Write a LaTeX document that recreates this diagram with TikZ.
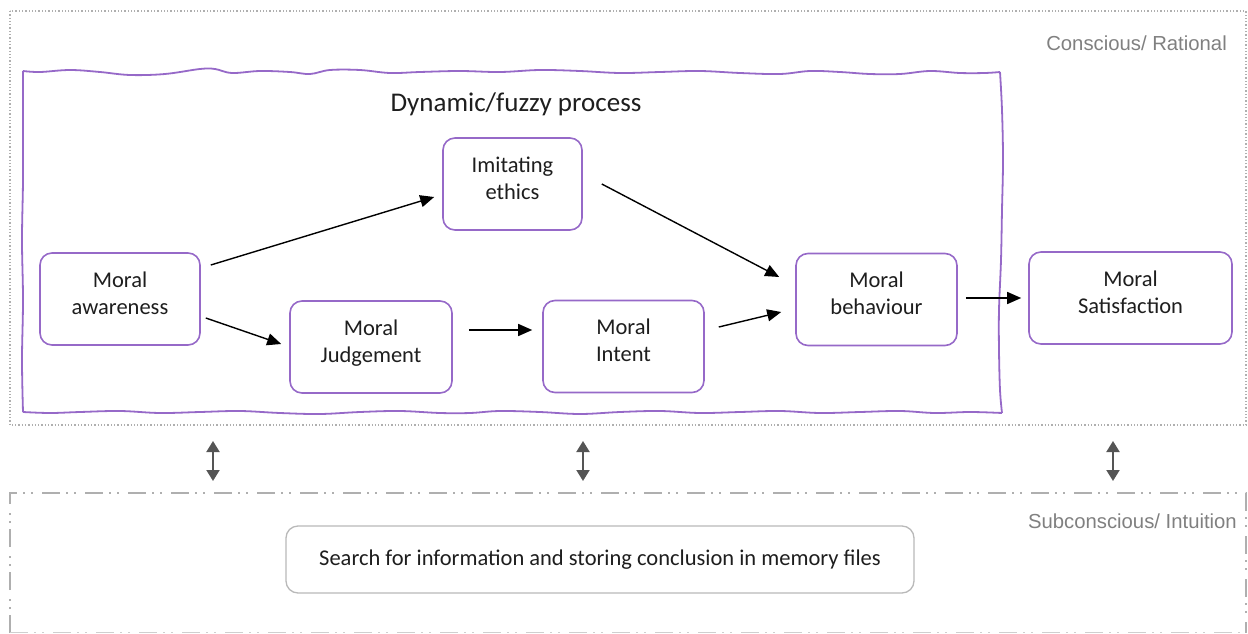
\documentclass[tikz,border=0pt]{standalone}
\usepackage{fontspec}
\setmainfont{Carlito}
\newfontfamily\labelfont{Liberation Sans}
\usetikzlibrary{arrows.meta,calc}
\definecolor{procpurple}{RGB}{150,105,200}
\definecolor{boxgray}{RGB}{185,185,185}
\definecolor{zonegray}{RGB}{175,175,175}
\definecolor{labelgray}{RGB}{128,128,128}
\definecolor{darkarrow}{RGB}{85,85,85}
\definecolor{inktext}{RGB}{30,30,30}
\tikzset{
  stage/.style={draw=procpurple, line width=1.6pt, rounded corners=12pt,
    minimum width=#1, minimum height=92pt, align=center, inner sep=0pt,
    text depth=12pt, text=inktext, font=\fontsize{22.5}{27}\selectfont},
  stage/.default=161pt,
  flow/.style={-{Triangle[length=14pt,width=12pt]}, line width=1.4pt, black},
  link/.style={{Triangle[length=11pt,width=13pt]}-{Triangle[length=11pt,width=13pt]},
    line width=2pt, darkarrow},
  zonelabel/.style={text=labelgray, font=\labelfont\fontsize{20.3}{24}\selectfont, inner sep=0pt},
  wavy/.style={draw=procpurple, line width=1.8pt, line join=round}
}
\begin{document}
\begin{tikzpicture}[x=1pt,y=-1pt]
\useasboundingbox (0,0) rectangle (1248,634);

% conscious / rational zone
\draw[zonegray, line width=1.3pt, dotted] (10,11) rectangle (1246,425);
\node[zonelabel, anchor=east] (conslabel) at (1227,43) {Conscious/ Rational};

% subconscious / intuition zone
\draw[zonegray, line width=1.5pt,
  dash pattern=on 18pt off 6pt on 2pt off 6pt on 2pt off 9pt]
  (10,633) -- (10,493) -- (1246,493) -- (1246,633);
\draw[zonegray!60, line width=1pt,
  dash pattern=on 18pt off 6pt on 2pt off 6pt on 2pt off 9pt]
  (10,632) -- (1246,632);
\node[zonelabel, anchor=east] (sublabel) at (1237,521) {Subconscious/ Intuition};

% hand-drawn frame of the dynamic process
\draw[wavy] plot[smooth, tension=0.6] coordinates {
  (23,71) (40,72) (70,70) (100,72) (130,75) (165,74) (200,69) (215,69)
  (232,73) (260,71) (290,72) (310,74) (330,70) (360,70) (390,73) (420,72)
  (460,71) (500,72) (540,70) (580,71) (620,73) (660,72) (700,71) (740,73)
  (780,74) (810,71) (840,72) (870,74) (900,74) (930,71) (960,73) (985,73) (1000,72)};
\draw[wavy] plot[smooth, tension=0.6] coordinates {
  (1000,72) (1002,110) (1003,160) (1002,210) (1001,260) (999,310)
  (999,350) (1000,390) (1002,413)};
\draw[wavy] plot[smooth, tension=0.6] coordinates {
  (1002,413) (970,412) (935,413) (900,411) (860,412) (820,413) (780,411)
  (740,412) (700,413) (660,411) (620,412) (580,414) (540,412) (500,411)
  (470,413) (440,413) (400,411) (360,412) (320,414) (280,413) (240,411)
  (200,412) (160,413) (120,411) (80,412) (50,413) (23,412)};
\draw[wavy] plot[smooth, tension=0.6] coordinates {
  (23,412) (22,360) (23,300) (22,240) (23,180) (23,120) (23,71)};

\node[text=inktext, font=\fontsize{27}{32}\selectfont, inner sep=0pt]
  (title) at (516,104) {Dynamic/fuzzy process};

% stages
\node[stage=160pt] (aware) at (120,299) {Moral\\awareness};
\node[stage=162pt] (judge) at (371,347) {Moral\\Judgement};
\node[stage=139pt] (imit) at (512.5,184) {Imitating\\ethics};
\node[stage=161pt] (intent) at (623.5,346.5) {Moral\\Intent};
\node[stage=161pt] (behav) at (876.5,299.5) {Moral\\behaviour};
\node[stage=203pt] (satis) at (1130.5,298) {Moral\\Satisfaction};

\node[draw=boxgray, line width=1.3pt, rounded corners=12pt,
  minimum width=628pt, minimum height=67pt, inner sep=0pt,
  text=inktext, font=\fontsize{22.5}{27}\selectfont]
  (search) at (600,559.5) {Search for information and storing conclusion in memory files};

% flows between stages
\draw[flow] ($(aware.east)+(10,-34)$) -- ($(imit.west)+(-8,13)$);
\draw[flow] ($(aware.east)+(5,19)$) -- ($(judge.west)+(-8,-3)$);
\draw[flow] ($(judge.east)+(16,-17)$) -- ($(intent.west)+(-10,-16.5)$);
\draw[flow] ($(imit.east)+(19,0)$) -- ($(behav.west)+(-16,-22.5)$);
\draw[flow] ($(intent.east)+(14,-19.5)$) -- ($(behav.west)+(-14,12.5)$);
\draw[flow] ($(behav.east)+(8,-1.5)$) -- ($(satis.west)+(-7,0)$);

% exchange between the two levels
\coordinate (up1) at (213,441); \coordinate (dn1) at (213,481);
\coordinate (up2) at (583,441); \coordinate (dn2) at (583,481);
\coordinate (up3) at (1113,441); \coordinate (dn3) at (1113,481);
\draw[link] (up1) -- (dn1);
\draw[link] (up2) -- (dn2);
\draw[link] (up3) -- (dn3);
\end{tikzpicture}
\end{document}
